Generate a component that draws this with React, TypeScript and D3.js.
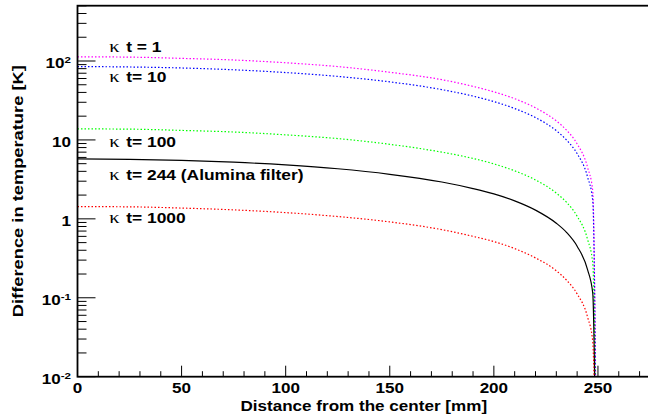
import React from "react";
import * as d3 from "d3";

// ---- data ----
const radius = [0, 25, 50, 75, 100, 125, 150, 175, 190, 200, 210, 220, 230, 235, 240, 245, 247.5, 250];
const kt1 = [113, 112, 108, 103, 95, 85, 72, 58, 47.7, 40.7, 33.3, 25.5, 17.4, 13.2, 8.9, 4.5, 2.25, 0];
const kt10 = [85, 84, 81.6, 77.4, 71.4, 63.8, 54.4, 43.4, 35.9, 30.6, 25.0, 19.2, 13.1, 9.9, 6.7, 3.4, 1.7, 0];
const kt100 = [13.8, 13.7, 13.2, 12.6, 11.6, 10.4, 8.8, 7.0, 5.83, 4.97, 4.06, 3.11, 2.12, 1.61, 1.08, 0.55, 0.275, 0];
const kt244 = [5.74, 5.68, 5.51, 5.22, 4.82, 4.31, 3.67, 2.93, 2.42, 2.07, 1.69, 1.29, 0.88, 0.67, 0.45, 0.227, 0.114, 0];
const kt1000 = [1.43, 1.42, 1.37, 1.3, 1.2, 1.07, 0.915, 0.73, 0.6, 0.515, 0.42, 0.32, 0.22, 0.166, 0.112, 0.057, 0.028, 0];

const seriesNames = ["κ t = 1", "κ t= 10", "κ t= 100", "κ t= 244 (Alumina filter)", "κ t= 1000"];
const seriesColors = ["#ff00ff", "#0000ff", "#00ff00", "#000000", "#ff0000"];
const seriesDotted = [true, true, true, false, true];
const seriesValues = [kt1, kt10, kt100, kt244, kt1000];
// label anchor values (baseline given as a data value on the y axis)
const labelValues = [130, 54, 8.15, 3.07, 0.89];

const xMajorTicks = [0, 50, 100, 150, 200, 250];
const yMajorTicks = [0.01, 0.1, 1, 10, 100];
const yTickBase = ["10", "10", "1", "10", "10"];
const yTickExp = ["-2", "-1", "", "", "2"];

const xTitle = "Distance from the center [mm]";
const yTitle = "Difference in temperature [K]";

// ---- layout ----
const W = 648;
const H = 415;
const left = 77.5;
const right = 650;
const top = 5.7;
const bottom = 376.7;
const SX = 1.22;
const FONT = "'Liberation Sans', Arial, Helvetica, sans-serif";

export default function App() {
  const x = d3.scaleLinear().domain([0, 275]).range([left, right]);
  const y = d3.scaleLog().domain([0.01, 502]).range([bottom, top]);

  const line = d3
    .line<[number, number]>()
    .x((d) => x(d[0]))
    .y((d) => y(Math.max(d[1], 1e-6)))
    .curve(d3.curveMonotoneX);

  const xMinor = d3.range(0, 276, 10).filter((v) => v % 50 !== 0);
  const yMinor: number[] = [];
  for (let e = -2; e <= 2; e++) {
    for (let k = 2; k <= 9; k++) {
      const v = k * Math.pow(10, e);
      if (v < 502) yMinor.push(v);
    }
  }

  const txt = (
    key: string | number,
    px: number,
    py: number,
    content: React.ReactNode,
    anchor: string,
    size: number,
    rotate = 0,
    sx = SX
  ) => (
    <text
      key={key}
      transform={`translate(${px},${py})${rotate ? ` rotate(${rotate})` : ""} scale(${sx},1)`}
      textAnchor={anchor}
      fontFamily={FONT}
      fontWeight="bold"
      fontSize={size}
      fill="#000"
    >
      {content}
    </text>
  );

  return (
    <svg
      width={W}
      height={H}
      style={{ position: "absolute", left: 0, top: 0, background: "#fff" }}
    >
      <defs>
        <clipPath id="plotclip">
          <rect x={left} y={top} width={right - left} height={bottom - top} />
        </clipPath>
      </defs>
      <rect x={0} y={0} width={W} height={H} fill="#fff" />

      {/* curves */}
      <g clipPath="url(#plotclip)">
        {seriesValues.map((vals, i) => (
          <path
            key={i}
            d={line(radius.map((r, j) => [r, vals[j]] as [number, number])) || ""}
            fill="none"
            stroke={seriesColors[i]}
            strokeWidth={1.2}
            strokeDasharray={seriesDotted[i] ? "1.5 2" : undefined}
          />
        ))}
      </g>

      {/* frame */}
      <rect
        x={left}
        y={top}
        width={right - left}
        height={bottom - top}
        fill="none"
        stroke="#000"
        strokeWidth={1.8}
      />

      {/* x ticks */}
      {xMajorTicks.map((v) => (
        <line key={"xM" + v} x1={x(v)} x2={x(v)} y1={bottom} y2={bottom - 11} stroke="#000" strokeWidth={1} />
      ))}
      {xMinor.map((v) => (
        <line key={"xm" + v} x1={x(v)} x2={x(v)} y1={bottom} y2={bottom - 5.5} stroke="#000" strokeWidth={1} />
      ))}
      {xMajorTicks.map((v) => txt("xl" + v, x(v), 393, String(v), "middle", 14))}

      {/* y ticks */}
      {yMajorTicks.map((v) => (
        <line key={"yM" + v} x1={left} x2={left + 18} y1={y(v)} y2={y(v)} stroke="#000" strokeWidth={1} />
      ))}
      {yMinor.map((v) => (
        <line key={"ym" + v} x1={left} x2={left + 9} y1={y(v)} y2={y(v)} stroke="#000" strokeWidth={1} />
      ))}
      {yMajorTicks.map((v, i) =>
        txt(
          "yl" + v,
          71,
          y(v) + 7,
          <>
            {yTickBase[i]}
            {yTickExp[i] ? (
              <tspan fontSize={9.5} dy={-5}>
                {yTickExp[i]}
              </tspan>
            ) : null}
          </>,
          "end",
          14
        )
      )}

      {/* axis titles */}
      {txt("xt", (left + right) / 2, 410.5, xTitle, "middle", 14)}
      {txt("yt", 22.7, (top + bottom) / 2, yTitle, "middle", 15, -90)}

      {/* series labels */}
      {seriesNames.map((name, i) => {
        const parts = name.split("κ");
        return txt(
          "sl" + i,
          109.3,
          y(labelValues[i]),
          <>
            <tspan fontFamily="'Liberation Serif', 'DejaVu Serif', serif" fontWeight="normal" fontSize={17}>
              κ
            </tspan>
            <tspan dx={1.5}>{parts[1]}</tspan>
          </>,
          "start",
          14.5,
          0,
          1.2
        );
      })}
    </svg>
  );
}
